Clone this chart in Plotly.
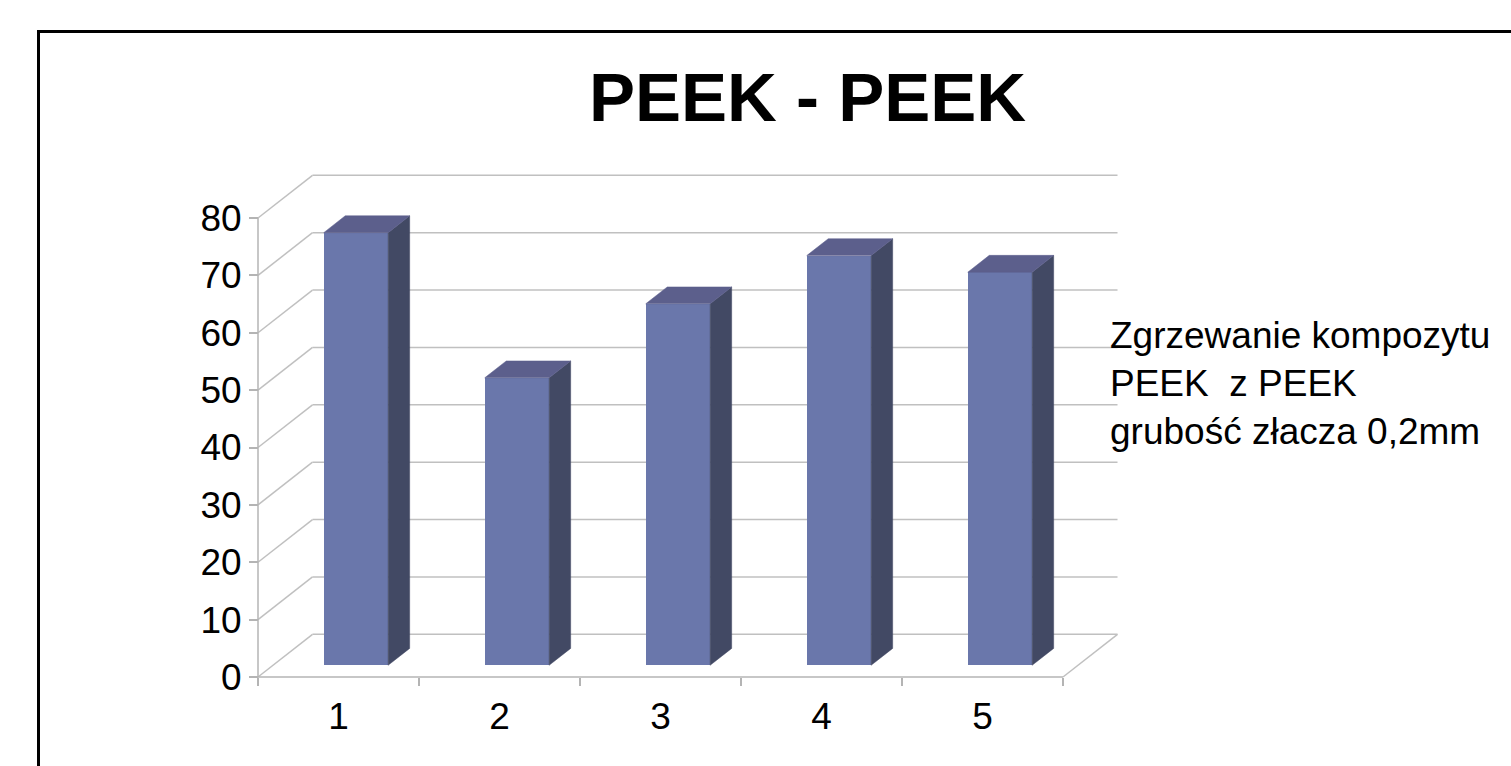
import plotly.graph_objects as go

# ---- data ----
categories = [1, 2, 3, 4, 5]
category_labels = ["1", "2", "3", "4", "5"]
values = [75.4, 50.1, 63.0, 71.4, 68.5]
y_ticks = [0, 10, 20, 30, 40, 50, 60, 70, 80]
title_text = "PEEK - PEEK"
legend_text = "Zgrzewanie kompozytu<br>PEEK\u00a0 z PEEK<br>grubość złacza 0,2mm"

# ---- geometry / style (pixels -> data units) ----
W, H = 1511, 766
X0PX, PXX = 258.0, 161.0      # pixel of x=0.5 (front axis start), px per category
Y0PX, PXY = 677.0, 5.7375     # pixel of value 0, px per value unit
DXU = 54.5 / PXX              # depth offset in x units
DYU = 42.7 / PXY              # depth offset in y units
F1X, F1Y = 0.32, 0.275        # depth fraction of bar front face
TH = 0.395                    # bar depth fraction
BW = 0.4                      # bar width

PL, PR, PT, PB = 195, 1150, 140, 705   # plot area pixels
xr = [0.5 + (PL - X0PX) / PXX, 0.5 + (PR - X0PX) / PXX]
yr = [(Y0PX - PB) / PXY, (Y0PX - PT) / PXY]

FRONT = "#6a77ab"
SIDE = "#424964"
TOP = "#5c5f8c"
GRID = "#c0c0c0"
FONT = "Liberation Sans, Arial, sans-serif"

fig = go.Figure()

# front faces as bars
fig.add_trace(go.Bar(
    x=[c + F1X * DXU for c in categories],
    y=values,
    base=[F1Y * DYU] * len(values),
    width=BW,
    marker=dict(color=FRONT, line=dict(width=0)),
    hoverinfo="skip",
    showlegend=False,
))

# side and top faces
for c, v in zip(categories, values):
    xl = c + F1X * DXU - BW / 2
    xrt = c + F1X * DXU + BW / 2
    b = F1Y * DYU
    ddx, ddy = TH * DXU, TH * DYU
    fig.add_trace(go.Scatter(
        x=[xrt, xrt + ddx, xrt + ddx, xrt, xrt],
        y=[b, b + ddy, b + v + ddy, b + v, b],
        fill="toself", fillcolor=SIDE, mode="lines",
        line=dict(width=0.5, color=SIDE), hoverinfo="skip", showlegend=False))
    fig.add_trace(go.Scatter(
        x=[xl, xrt, xrt + ddx, xl + ddx, xl],
        y=[b + v, b + v, b + v + ddy, b + v + ddy, b + v],
        fill="toself", fillcolor=TOP, mode="lines",
        line=dict(width=0.5, color=TOP), hoverinfo="skip", showlegend=False))

# walls / grid as shapes below traces
xa, xb = categories[0] - 0.5, categories[-1] + 0.5
shapes = []
ln = dict(color=GRID, width=1.5)
for t in y_ticks:
    shapes.append(dict(type="line", xref="x", yref="y", x0=xa + DXU, x1=xb + DXU,
                       y0=t + DYU, y1=t + DYU, line=ln, layer="below"))
    shapes.append(dict(type="line", xref="x", yref="y", x0=xa, x1=xa + DXU,
                       y0=t, y1=t + DYU, line=ln, layer="below"))
shapes.append(dict(type="line", xref="x", yref="y", x0=xa, x1=xa, y0=y_ticks[0], y1=y_ticks[-1],
                   line=dict(color="#b4b4b4", width=1.5), layer="below"))
shapes.append(dict(type="line", xref="x", yref="y", x0=xa, x1=xb, y0=0, y1=0,
                   line=dict(color="#b4b4b4", width=1.5), layer="below"))
shapes.append(dict(type="line", xref="x", yref="y", x0=xb, x1=xb + DXU, y0=0, y1=DYU,
                   line=ln, layer="below"))
# outer frame
shapes.append(dict(type="rect", xref="paper", yref="paper", x0=38.5 / W, x1=1.02,
                   y0=-0.02, y1=1 - 31.5 / H, line=dict(color="black", width=3),
                   fillcolor="rgba(0,0,0,0)", layer="above"))

fig.update_layout(
    width=W, height=H,
    margin=dict(l=0, r=0, t=0, b=0),
    paper_bgcolor="white", plot_bgcolor="rgba(0,0,0,0)",
    shapes=shapes,
    showlegend=False,
    bargap=0,
    xaxis=dict(
        domain=[PL / W, PR / W], range=xr, anchor="free", position=1 - Y0PX / H,
        tickmode="array", tickvals=categories, ticktext=category_labels,
        ticks="", showgrid=False, zeroline=False, showline=False,
        tickfont=dict(family=FONT, size=37, color="black"),
        ticklabelstandoff=14,
        minor=dict(tickmode="array", tickvals=[xa + i for i in range(len(categories) + 1)],
                   ticks="outside", ticklen=8, tickcolor="#b4b4b4", tickwidth=1.5,
                   showgrid=False),
        fixedrange=True,
    ),
    yaxis=dict(
        domain=[1 - PB / H, 1 - PT / H], range=yr, anchor="free", position=X0PX / W,
        tickmode="array", tickvals=y_ticks,
        ticks="outside", ticklen=9, tickcolor="#b4b4b4", tickwidth=1.5,
        showgrid=False, zeroline=False, showline=False,
        tickfont=dict(family=FONT, size=37, color="black"),
        fixedrange=True,
    ),
    annotations=[
        dict(text="<b>" + title_text + "</b>", xref="paper", yref="paper",
             x=808 / W, y=1 - 97 / H, xanchor="center", yanchor="middle",
             showarrow=False, font=dict(family=FONT, size=69, color="black")),
        dict(text=legend_text, xref="paper", yref="paper", align="left",
             x=1108 / W, y=1 - 384 / H, xanchor="left", yanchor="middle",
             showarrow=False, font=dict(family=FONT, size=37, color="black")),
    ],
)

fig.write_html("out.html")
